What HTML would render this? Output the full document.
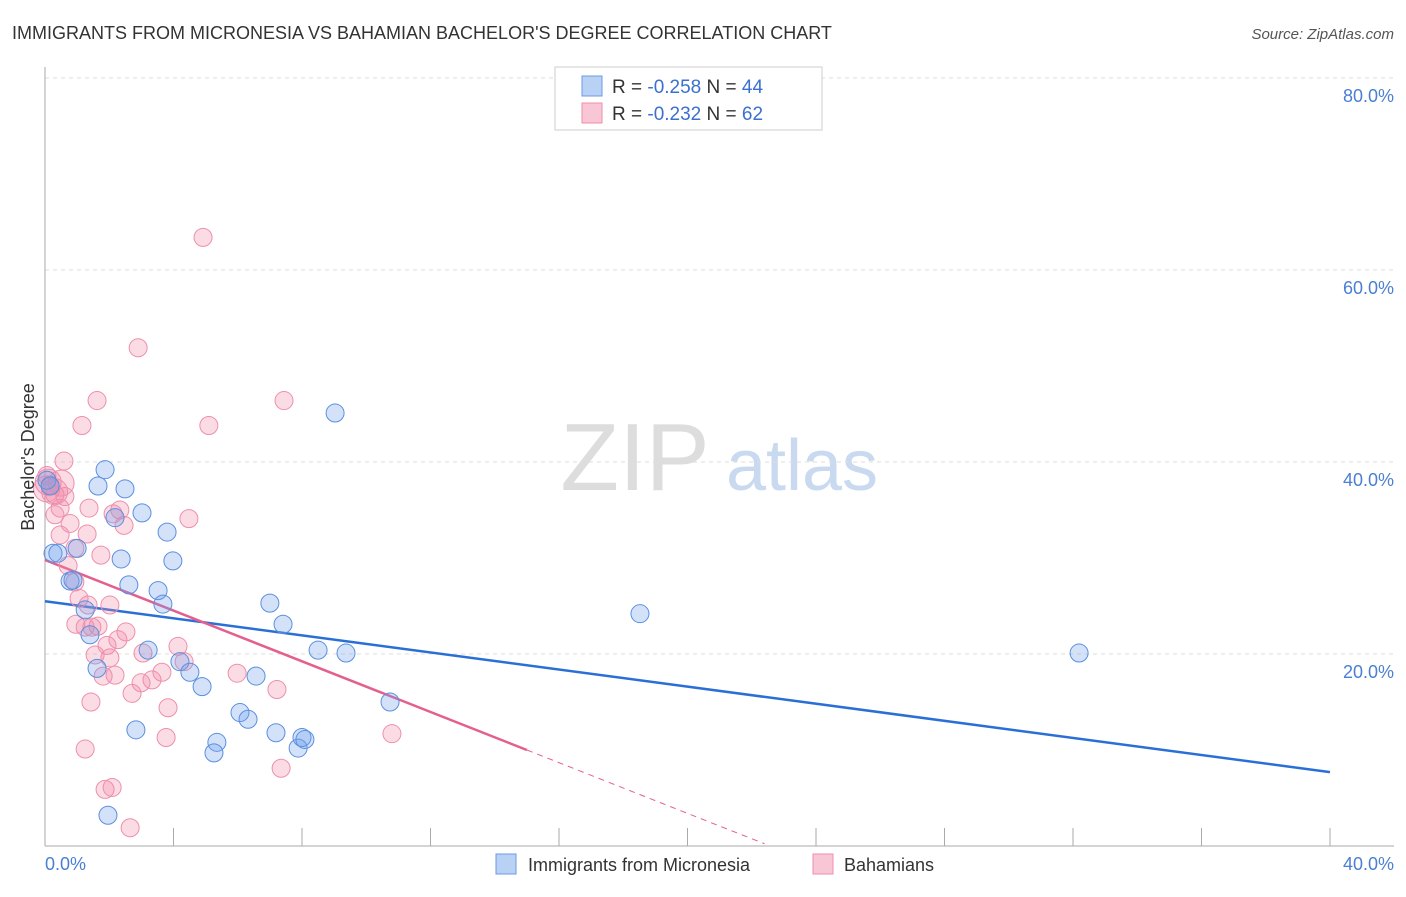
<!DOCTYPE html>
<html><head><meta charset="utf-8"><style>
body{margin:0;background:#fff;font-family:"Liberation Sans",sans-serif}
svg text{font-family:"Liberation Sans",sans-serif}
</style></head><body>
<svg id="c" width="1406" height="892" xmlns="http://www.w3.org/2000/svg">
<text x="12" y="39" font-size="18" fill="#333">IMMIGRANTS FROM MICRONESIA VS BAHAMIAN BACHELOR'S DEGREE CORRELATION CHART</text>
<text x="1394" y="39" font-size="15" fill="#555" text-anchor="end" font-style="italic">Source: ZipAtlas.com</text>
<g><text x="635" y="490" font-size="96" fill="#ddd" font-family="Liberation Serif" text-anchor="middle">ZIP</text><text x="802" y="490" font-size="72" fill="#c9d9f0" text-anchor="middle">atlas</text></g>
<g id="grid"></g><g id="axes"></g><g id="lines"></g><g id="pts"></g>
<text transform="translate(34,457) rotate(-90)" font-size="18" fill="#333" text-anchor="middle">Bachelor's Degree</text>
<text x="45" y="870" font-size="18" fill="#4a7fd4">0.0%</text>
<text x="1394" y="870" font-size="18" fill="#4a7fd4" text-anchor="end">40.0%</text>
<g>
<rect x="555" y="67" width="267" height="63" fill="#fff" stroke="#ccc"/>
<rect x="582" y="76" width="20" height="20" fill="#b9d1f4" stroke="#6a9be0"/>
<rect x="582" y="103" width="20" height="20" fill="#f9c6d5" stroke="#ee8fab"/>
<text x="612" y="93" font-size="19" fill="#333">R = <tspan fill="#3a70d0">-0.258</tspan>   N = <tspan fill="#3a70d0">44</tspan></text>
<text x="612" y="120" font-size="19" fill="#333">R = <tspan fill="#3a70d0">-0.232</tspan>   N = <tspan fill="#3a70d0">62</tspan></text>
</g>
<g>
<rect x="496" y="854" width="20" height="20" fill="#b9d1f4" stroke="#6a9be0"/>
<text x="528" y="871" font-size="18" fill="#333">Immigrants from Micronesia</text>
<rect x="813" y="854" width="20" height="20" fill="#f9c6d5" stroke="#ee8fab"/>
<text x="844" y="871" font-size="18" fill="#333">Bahamians</text>
</g>
</svg>
<script>
const yTicks=[20,40,60,80];
const blueX=[0.25,0.4,0.78,0.87,1.25,1.4,1.62,1.65,1.87,2.18,2.49,2.37,2.61,2.83,3.02,3.21,3.52,3.67,3.8,3.98,4.2,4.51,4.89,1.96,6.07,6.32,5.35,5.26,6.57,7.0,7.41,7.19,7.88,8.0,8.09,8.5,9.37,9.03,10.74,18.52,32.19,0.06,0.16,1.0];
const blueY=[30.5,30.5,27.6,27.7,24.6,22.0,18.5,37.5,39.2,34.2,37.2,29.9,27.2,12.1,34.7,20.4,26.6,25.2,32.7,29.7,19.2,18.1,16.6,3.2,13.9,13.2,10.8,9.7,17.7,25.3,23.1,11.8,10.2,11.3,11.1,20.4,20.1,45.1,15.0,24.2,20.1,38.1,37.5,31.0];
const pinkX=[4.92,2.9,1.62,7.44,5.1,1.15,0.59,0.06,0.16,0.31,0.62,0.47,0.31,1.37,0.78,0.47,2.33,2.12,2.46,4.48,0.93,1.31,1.74,0.72,0.93,2.02,1.06,1.25,0.96,1.46,1.65,1.34,2.27,1.93,2.52,1.56,2.02,4.14,3.05,4.33,1.81,2.18,3.33,2.99,3.64,2.71,5.98,7.22,3.83,1.43,1.25,3.77,1.87,2.09,2.65,7.35,10.8,0.1,0.05,0.3,0.5];
const pinkY=[63.4,51.9,46.4,46.4,43.8,43.8,40.1,38.6,37.6,36.6,36.4,35.2,34.5,35.2,33.6,32.4,35.0,34.6,33.4,34.1,31.0,32.5,30.3,29.2,27.5,25.1,25.8,22.8,23.1,22.8,22.9,25.1,21.5,20.9,22.3,19.9,19.6,20.8,20.1,19.2,17.7,17.8,17.3,17.0,18.1,15.9,18.0,16.3,14.4,15.0,10.1,11.3,5.9,6.1,1.9,8.1,11.7,37.9,37.2,36.9,37.8];
const blueTrend=[25.5,7.7];
const pinkTrend=[29.8,10.0,15.0,22.4];
const NS="http://www.w3.org/2000/svg";
const X=v=>45+v*32.125, Y=v=>846-v*9.6;
function mk(p,t,a){const e=document.createElementNS(NS,t);for(const k in a)e.setAttribute(k,a[k]);document.getElementById(p).appendChild(e);return e;}
yTicks.forEach(t=>{
 const l=mk('grid','line',{x1:45,x2:1394,y1:Y(t),y2:Y(t),stroke:'#ddd','stroke-dasharray':'4,4'});
 
 
 const tx=mk('grid','text',{x:1394,y:Y(t)+24,'font-size':18,fill:'#4a7fd4','text-anchor':'end'});
 tx.textContent=t.toFixed(1)+'%';
 
 
});
const ax=mk('axes','line',{x1:45,x2:45,y1:67,y2:846,stroke:'#aaa'});


const bx=mk('axes','line',{x1:45,x2:1394,y1:846,y2:846,stroke:'#aaa'});


for(let i=0;i<=10;i++){const t=mk('axes','line',{x1:X(i*4),x2:X(i*4),y1:828,y2:846,stroke:'#aaa'});
 
 }
function dot(x,y,f,s,n,r){const c=mk('pts','circle',{cx:X(x),cy:Y(y),r:r||9,fill:f,stroke:s,'stroke-width':1});
 
 }
pinkX.forEach((x,i)=>dot(x,pinkY[i],'rgba(242,140,170,0.3)','#ee8fab','bahamians-point',i>=57?13:9));
blueX.forEach((x,i)=>dot(x,blueY[i],'rgba(110,160,235,0.3)','#5b8fe0','micronesia-point'));
const bl=mk('lines','line',{x1:X(0),y1:Y(blueTrend[0]),x2:X(40),y2:Y(blueTrend[1]),stroke:'#2a6fd6','stroke-width':2.5});


const pl=mk('lines','line',{x1:X(0),y1:Y(pinkTrend[0]),x2:X(pinkTrend[2]),y2:Y(pinkTrend[1]),stroke:'#e55f8e','stroke-width':2.5});


const slope=(pinkTrend[1]-pinkTrend[0])/pinkTrend[2];
const pd=mk('lines','line',{x1:X(pinkTrend[2]),y1:Y(pinkTrend[1]),x2:X(pinkTrend[3]),y2:Y(pinkTrend[0]+slope*pinkTrend[3]),stroke:'#e55f8e','stroke-width':1,'stroke-dasharray':'6,5'});


</script>
</body></html>
